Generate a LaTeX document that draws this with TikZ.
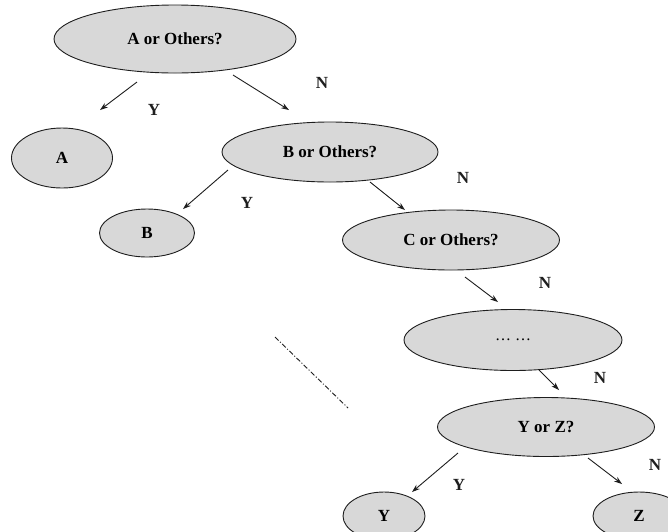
\documentclass[tikz,border=0pt]{standalone}
\usepackage{fontspec}
\setmainfont{Liberation Serif}
\usetikzlibrary{shapes.geometric,arrows.meta}
\definecolor{nodefill}{RGB}{216,216,216}
\definecolor{ink}{RGB}{30,30,30}
\tikzset{
  oval/.style={ellipse,draw=ink,line width=0.9pt,fill=nodefill,inner sep=0pt,
    font=\fontsize{17}{20}\selectfont\bfseries},
  arr/.style={draw=ink,line width=0.9pt,-{Stealth[length=8pt,width=5.5pt]}},
  lbl/.style={font=\fontsize{17}{20}\selectfont\bfseries,text=ink,inner sep=0pt}
}
\begin{document}
\begin{tikzpicture}[x=1pt,y=-1pt]
\useasboundingbox (0,0) rectangle (668,531);
\clip (0,0) rectangle (668,531);
% nodes
\node[oval,minimum width=242,minimum height=68] (aq) at (175,39) {A or Others?};
\node[oval,minimum width=101,minimum height=60] (a) at (62,158) {A};
\node[oval,minimum width=216,minimum height=60] (bq) at (330,152) {B or Others?};
\node[oval,minimum width=95,minimum height=48] (b) at (147,233) {B};
\node[oval,minimum width=217,minimum height=60] (cq) at (451,240) {C or Others?};
\node[oval,minimum width=218,minimum height=61,font=\fontsize{16}{18}\selectfont] (dq) at (513,340) {\ldots\ \ldots};
\node[oval,minimum width=217,minimum height=59] (yz) at (546,427) {Y or Z?};
\node[oval,minimum width=82,minimum height=48] (y) at (384,516) {Y};
\node[oval,minimum width=92,minimum height=48] (z) at (639,516) {Z};
% arrow ends
\coordinate (a1s) at (137,82);  \coordinate (a1e) at (100,110);
\coordinate (a2s) at (233,75);  \coordinate (a2e) at (289,110);
\coordinate (b1s) at (228,170); \coordinate (b1e) at (183,209);
\coordinate (b2s) at (370,182); \coordinate (b2e) at (405,210);
\coordinate (c1s) at (465,277); \coordinate (c1e) at (498,302);
\coordinate (d1s) at (539,370); \coordinate (d1e) at (559,390);
\coordinate (e1s) at (458,453); \coordinate (e1e) at (412,492);
\coordinate (e2s) at (588,458); \coordinate (e2e) at (622,484);
\draw[arr] (a1s) -- (a1e);
\draw[arr] (a2s) -- (a2e);
\draw[arr] (b1s) -- (b1e);
\draw[arr] (b2s) -- (b2e);
\draw[arr] (c1s) -- (c1e);
\draw[arr] (d1s) -- (d1e);
\draw[arr] (e1s) -- (e1e);
\draw[arr] (e2s) -- (e2e);
% labels
\node[lbl] (l1) at (154,110) {Y};
\node[lbl] (l2) at (322,83) {N};
\node[lbl] (l3) at (247,203) {Y};
\node[lbl] (l4) at (463,178) {N};
\node[lbl] (l5) at (545,283) {N};
\node[lbl] (l6) at (600,378) {N};
\node[lbl] (l7) at (459,485) {Y};
\node[lbl] (l8) at (655,465) {N};
% dash-dotted continuation line
\coordinate (ds) at (275,337);
\coordinate (de) at (348,408);
\draw[ink,line width=0.9pt,dash pattern=on 5pt off 2pt on 1pt off 2pt] (ds) -- (de);
\end{tikzpicture}
\end{document}
